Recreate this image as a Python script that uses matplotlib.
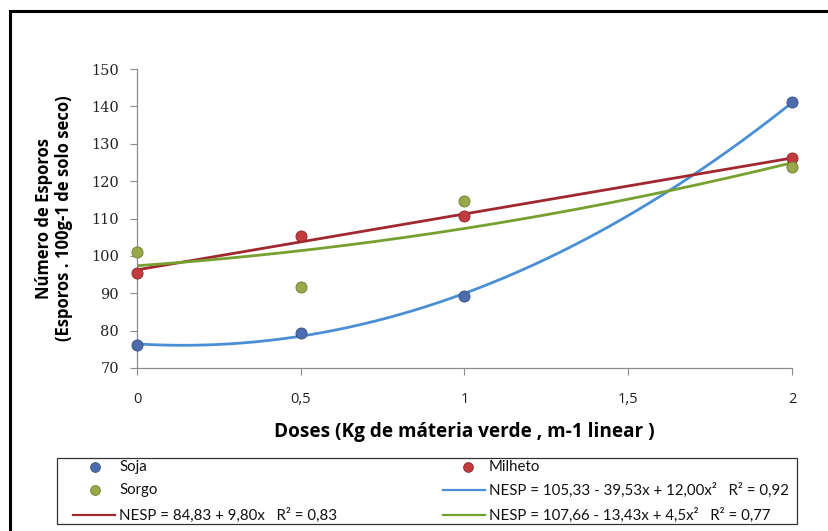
import matplotlib.pyplot as plt
import numpy as np
from matplotlib import font_manager
from matplotlib.patches import Rectangle
from matplotlib.lines import Line2D

# doses aplicadas e número de esporos por cultura
doses = [0, 0.5, 1, 2]
soja = [76.1, 79.4, 89.3, 141.1]
milheto = [95.4, 105.3, 110.6, 126.1]
sorgo = [101.0, 91.7, 114.6, 123.7]

x_ticks = [0, 0.5, 1, 1.5, 2]
x_labels = ['0', '0,5', '1', '1,5', '2']
y_ticks = [70, 80, 90, 100, 110, 120, 130, 140, 150]

eq_soja = 'NESP = 105,33 - 39,53x + 12,00x²   R² = 0,92'
eq_milheto = 'NESP = 84,83 + 9,80x   R² = 0,83'
eq_sorgo = 'NESP = 107,66 - 13,43x + 4,5x²   R² = 0,77'

c_soja, c_milheto, c_sorgo = '#4d6cae', '#c23b3d', '#9aa84a'
e_soja, e_milheto, e_sorgo = '#34507f', '#8c2628', '#6f7a30'
l_soja, l_milheto, l_sorgo = '#4a8fd6', '#a0282e', '#76a030'

# fonte estreita para a legenda, se existir
nomes = {f.name for f in font_manager.fontManager.ttflist}
if 'Liberation Sans Narrow' in nomes:
    fonte_leg, tam_leg = 'Liberation Sans Narrow', 11.5
else:
    fonte_leg, tam_leg = 'Lato', 10.8

fig = plt.figure(figsize=(8.29, 5.31), dpi=100)
ax = fig.add_axes([0.1653, 0.307, 0.790, 0.563])

# linhas de tendência (ajuste polinomial dos pontos)
xs = np.linspace(0, 2, 200)
p_soja = np.polyfit(doses, soja, 2)
p_milheto = np.polyfit(doses, milheto, 1)
p_sorgo = np.polyfit(doses, sorgo, 2)
ax.plot(xs, np.polyval(p_soja, xs), color=l_soja, lw=2, zorder=2)
ax.plot(xs, np.polyval(p_milheto, xs), color=l_milheto, lw=2, zorder=2)
ax.plot(xs, np.polyval(p_sorgo, xs), color=l_sorgo, lw=2, zorder=2)

mk = dict(marker='o', ms=8, ls='none', zorder=3, markeredgewidth=0.6, clip_on=False)
ax.plot(doses, soja, color=c_soja, markeredgecolor=e_soja, **mk)
ax.plot(doses, milheto, color=c_milheto, markeredgecolor=e_milheto, **mk)
ax.plot(doses, sorgo, color=c_sorgo, markeredgecolor=e_sorgo, **mk)

ax.set_xlim(0, 2)
ax.set_ylim(70, 150)
ax.set_xticks(x_ticks)
ax.set_xticklabels(x_labels)
ax.set_yticks(y_ticks)
for s in ['top', 'right']:
    ax.spines[s].set_visible(False)
for s in ['left', 'bottom']:
    ax.spines[s].set_color('#8c8c8c')
    ax.spines[s].set_linewidth(0.9)
ax.tick_params(axis='both', direction='out', length=5, color='#8c8c8c',
               labelsize=10.5, labelcolor='#222222')
ax.tick_params(axis='x', pad=12)
ax.tick_params(axis='y', pad=8)
for t in ax.get_yticklabels():
    t.set_fontfamily('DejaVu Serif')
for t in ax.get_xticklabels():
    t.set_fontfamily('Open Sans')

ax.set_xlabel('Doses (Kg de máteria verde , m-1 linear )', fontsize=13.7,
              fontweight='bold', fontfamily='Open Sans', labelpad=11)
ax.set_ylabel('Número de Esporos\n(Esporos . 100g-1 de solo seco)', fontsize=12,
              fontweight='bold', fontfamily='Open Sans', linespacing=1.15)
ax.yaxis.set_label_coords(-0.098, 0.5)

# legenda montada à mão: caixa, símbolos e textos
fig.patches.append(Rectangle((0.0688, 0.0132), 0.8926, 0.1243, transform=fig.transFigure,
                             fill=False, edgecolor='#333333', lw=0.9))
linhas_y = [0.1205, 0.0772, 0.0301]
# (marcador, início da linha, fim da linha, texto) em fração da figura
colunas = [(0.1146, 0.0881, 0.1387, 0.1435), (0.5645, 0.5344, 0.5850, 0.5899)]
entradas = [
    (0, 0, 'ponto', c_soja, e_soja, 'Soja'),
    (0, 1, 'ponto', c_sorgo, e_sorgo, 'Sorgo'),
    (0, 2, 'linha', l_milheto, None, eq_milheto),
    (1, 0, 'ponto', c_milheto, e_milheto, 'Milheto'),
    (1, 1, 'linha', l_soja, None, eq_soja),
    (1, 2, 'linha', l_sorgo, None, eq_sorgo),
]
for col, lin, tipo, cor, borda, texto in entradas:
    xm, xa, xb, xt = colunas[col]
    y = linhas_y[lin]
    if tipo == 'ponto':
        fig.add_artist(Line2D([xm], [y], marker='o', ms=7, color=cor,
                              markeredgecolor=borda, markeredgewidth=0.6,
                              transform=fig.transFigure))
    else:
        fig.add_artist(Line2D([xa, xb], [y, y], color=cor, lw=1.6,
                              transform=fig.transFigure))
    fig.text(xt, y, texto, va='center', ha='left', fontsize=tam_leg,
             fontfamily=fonte_leg, color='#111111')

# moldura externa
fig.patches.append(Rectangle((0.0125, -0.05), 1.1, 1.029, transform=fig.transFigure,
                             fill=False, edgecolor='black', lw=2.2))

fig.savefig('out.png', dpi=100)
